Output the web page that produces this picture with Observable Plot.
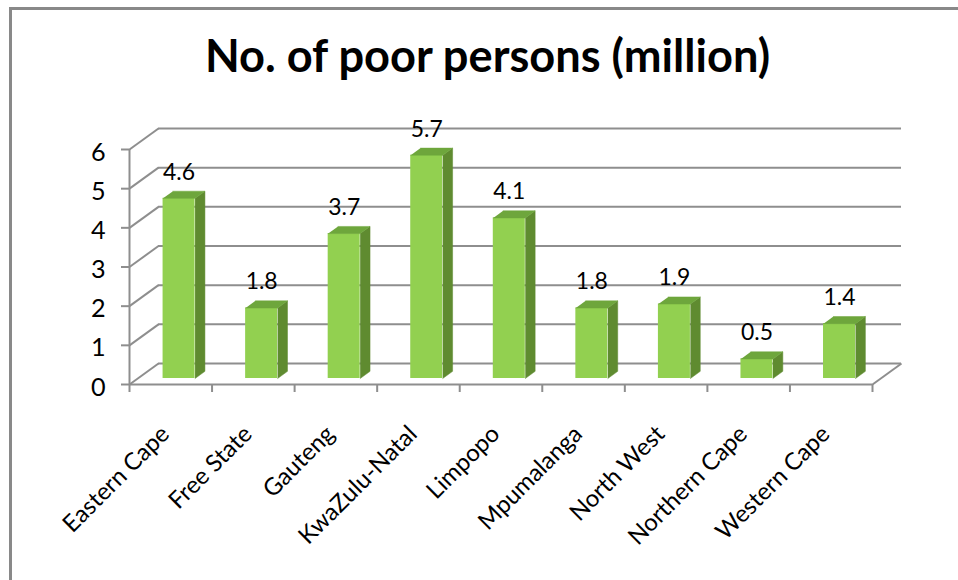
<!DOCTYPE html>
<html><head><meta charset="utf-8">
<script src="https://cdn.jsdelivr.net/npm/d3@7"></script>
<script src="https://cdn.jsdelivr.net/npm/@observablehq/plot@0.6"></script>
<style>
body{margin:0;background:#fff;}
#wrap{position:relative;width:958px;height:580px;overflow:hidden;background:#fff;}
#frame{position:absolute;left:9px;top:7px;width:1000px;height:700px;border-left:3px solid #898989;border-top:3px solid #898989;}
#chart{position:absolute;left:0;top:0;}
#title{position:absolute;left:0;top:0;}
</style></head><body>
<div id="wrap"><div id="frame"></div><div id="chart"></div><svg id="title" width="958" height="100"></svg></div>
<script>
const categories = ["Eastern Cape","Free State","Gauteng","KwaZulu-Natal","Limpopo","Mpumalanga","North West","Northern Cape","Western Cape"];
const values = [4.6, 1.8, 3.7, 5.7, 4.1, 1.8, 1.9, 0.5, 1.4];
const yTicks = [0, 1, 2, 3, 4, 5, 6];
const titleText = "No. of poor persons (million)";

// font sizes fitted to the reference text widths
const FONT = "Lato";
const ctx = document.createElement("canvas").getContext("2d");
function fitSize(text, weight, target) {
  ctx.font = `${weight} 100px ${FONT}`;
  return 100 * target / ctx.measureText(text).width;
}
const catSize = fitSize("Eastern Cape", "normal", 139);
const valSize = fitSize("4.6", "normal", 32);
const tickSize = valSize * 1.1;
const titleSize = fitSize(titleText, "bold", 567);

// layout (pixels)
const W = 958, H = 580;
const pLeft = 129, pRight = 872, pTop = 149, pBottom = 384;
const n = categories.length;
const kx = (pRight - pLeft) / n, ky = (pBottom - pTop) / 6;
const DX = 29 / kx, DY = 21 / ky;      // depth of the 3D box in data units
const z0 = 0.286, dz = 0.34;            // bar depth position
const halfW = 16 / kx;
const grid = "#8e8e8e";

const bars = categories.map((c, i) => ({c, i, v: values[i], cx: i + 0.5 + z0 * DX}));
const b0 = z0 * DY;
const sidePts = bars.flatMap(d => {
  const xR = d.cx + halfW, t = d.v + b0;
  return [[xR, b0], [xR + dz * DX, b0 + dz * DY], [xR + dz * DX, t + dz * DY], [xR, t]]
    .map(([x, y]) => ({id: d.c, x, y}));
});
const topPts = bars.flatMap(d => {
  const xL = d.cx - halfW, xR = d.cx + halfW, t = d.v + b0;
  return [[xL, t], [xR, t], [xR + dz * DX, t + dz * DY], [xL + dz * DX, t + dz * DY]]
    .map(([x, y]) => ({id: d.c, x, y}));
});

const chart = Plot.plot({
  width: W, height: H,
  marginLeft: pLeft, marginRight: W - pRight, marginTop: pTop, marginBottom: H - pBottom,
  x: {domain: [0, n], axis: null},
  y: {domain: [0, 6], axis: null},
  style: {fontFamily: FONT, fontSize: "21px", color: "#000", background: "transparent"},
  marks: [
    // back wall gridlines
    Plot.ruleY(yTicks, {y: d => d + DY, x1: () => DX, x2: () => n + DX, stroke: grid, strokeWidth: 2}),
    // side wall connectors
    Plot.link(yTicks, {x1: () => 0, y1: d => d, x2: () => DX, y2: d => d + DY, stroke: grid, strokeWidth: 2}),
    // floor right edge
    Plot.link([0], {x1: () => n, y1: () => 0, x2: () => n + DX, y2: () => DY, stroke: grid, strokeWidth: 2}),
    // front axes
    Plot.ruleY([0], {y: d => d, x1: () => 0, x2: () => n, stroke: grid, strokeWidth: 2}),
    Plot.ruleX([0], {x: d => d, y1: () => 0, y2: () => 6, stroke: grid, strokeWidth: 2}),
    Plot.ruleY(yTicks, {y: d => d, x1: () => -8 / kx, x2: () => 0, stroke: grid, strokeWidth: 2}),
    Plot.ruleX(d3.range(n + 1), {x: d => d, y1: () => 0, y2: () => -8 / ky, stroke: grid, strokeWidth: 2}),
    // bars
    Plot.rect(bars, {x1: d => d.cx - halfW, x2: d => d.cx + halfW, y1: () => b0, y2: d => d.v + b0, fill: "#92D050"}),
    Plot.line(sidePts, {x: "x", y: "y", z: "id", fill: "#5F8B30", stroke: "#5F8B30", strokeWidth: 0.5}),
    Plot.line(topPts, {x: "x", y: "y", z: "id", fill: "#6EA63C", stroke: "#6EA63C", strokeWidth: 0.5}),
    // labels
    Plot.text(yTicks, {x: () => 0, y: d => d, text: d => String(d), textAnchor: "end", dx: -24, dy: 3, fill: "#000", fontSize: tickSize}),
    Plot.text(bars, {x: d => d.i + 0.5, y: () => 0, text: "c", rotate: -45, textAnchor: "end", lineAnchor: "bottom", dy: 51, fill: "#000", fontSize: catSize}),
    Plot.text(bars, {x: "cx", y: d => d.v + b0, text: d => d.v.toFixed(1), dy: -26, fill: "#000", fontSize: valSize})
  ]
});
document.getElementById("chart").appendChild(chart);

d3.select("#title").append("text")
  .attr("x", 487.5).attr("y", 72)
  .attr("text-anchor", "middle")
  .attr("font-family", FONT).attr("font-weight", "bold").attr("font-size", titleSize)
  .attr("fill", "#000")
  .text(titleText);
</script>
</body></html>
